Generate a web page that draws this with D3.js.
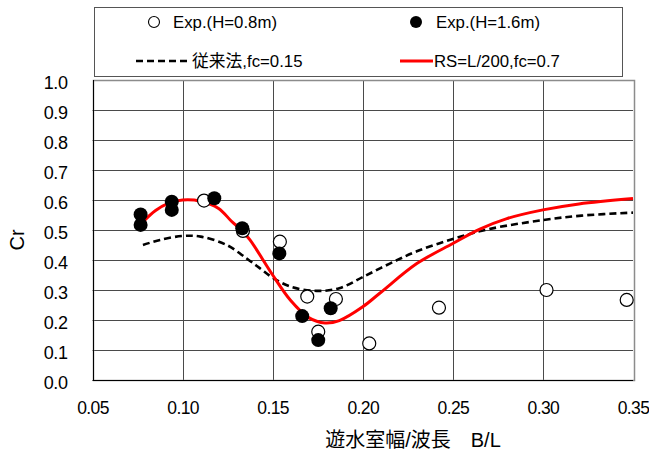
<!DOCTYPE html>
<html>
<head>
<meta charset="utf-8">
<script src="https://cdn.jsdelivr.net/npm/d3@7"></script>
<style>
  html, body { margin: 0; padding: 0; background: #fff; }
  svg { display: block; }
  text { font-family: "Liberation Sans", Arial, "Noto Sans CJK JP", sans-serif; fill: #000; }
  .jp { font-family: "Liberation Sans", "Noto Sans CJK JP", sans-serif; }
</style>
</head>
<body>
<script>
// Reflection coefficient Cr against chamber width / wavelength B/L
const xTicks = [0.05, 0.10, 0.15, 0.20, 0.25, 0.30, 0.35];
const yTicks = [0.0, 0.1, 0.2, 0.3, 0.4, 0.5, 0.6, 0.7, 0.8, 0.9, 1.0];

// Experiments, H = 0.8 m (open markers)
const expH08 = [
  [0.1119, 0.598], [0.1335, 0.497], [0.1540, 0.461], [0.1692, 0.278],
  [0.1753, 0.161], [0.1851, 0.270], [0.2036, 0.122], [0.2423, 0.241],
  [0.3020, 0.300], [0.3465, 0.267]
];

// Experiments, H = 1.6 m (filled markers)
const expH16 = [
  [0.0767, 0.552], [0.0767, 0.517], [0.0940, 0.594], [0.0940, 0.567],
  [0.1176, 0.606], [0.1331, 0.506], [0.1537, 0.422], [0.1664, 0.213],
  [0.1822, 0.239], [0.1753, 0.133]
];

// Conventional method, fc = 0.15 (dashed)
const conventional = [
  [0.078, 0.450], [0.0875, 0.467], [0.100, 0.480], [0.110, 0.478],
  [0.1245, 0.450], [0.1356, 0.405], [0.143, 0.372], [0.150, 0.341],
  [0.160, 0.311], [0.1744, 0.297], [0.187, 0.306], [0.2003, 0.344],
  [0.215, 0.388], [0.230, 0.429], [0.250, 0.470], [0.270, 0.503],
  [0.300, 0.533], [0.3215, 0.548], [0.350, 0.558]
];

// RS = L/200, fc = 0.7 (red)
const rsModel = [
  [0.078, 0.527], [0.085, 0.565], [0.092, 0.589], [0.100, 0.600],
  [0.110, 0.596], [0.120, 0.572], [0.127, 0.530], [0.133, 0.497],
  [0.1374, 0.467], [0.150, 0.350], [0.160, 0.265], [0.170, 0.208],
  [0.179, 0.190], [0.187, 0.198], [0.200, 0.244], [0.2096, 0.290],
  [0.230, 0.388], [0.250, 0.455], [0.265, 0.503], [0.280, 0.538],
  [0.300, 0.567], [0.320, 0.587], [0.350, 0.605]
];

const legendLabels = ["Exp.(H=0.8m)", "Exp.(H=1.6m)", "従来法,fc=0.15", "RS=L/200,fc=0.7"];
const xTitle = "遊水室幅/波長　B/L";
const yTitle = "Cr";

const W = 649, H = 454;
const plot = { left: 92.5, right: 633, top: 80, bottom: 380 };

const svg = d3.select("body").append("svg").attr("width", W).attr("height", H);

const x = d3.scaleLinear().domain([0.05, 0.35]).range([plot.left, plot.right]);
const y = d3.scaleLinear().domain([0, 1]).range([plot.bottom, plot.top]);
const snap = v => Math.round(v) + 0.5;

// grid
const grid = svg.append("g");
grid.selectAll("line.v").data(xTicks.slice(1, -1)).join("line")
  .attr("x1", d => snap(x(d))).attr("x2", d => snap(x(d)))
  .attr("y1", plot.top).attr("y2", plot.bottom)
  .attr("stroke", "#4a4a4a").attr("stroke-width", 1);
grid.selectAll("line.h").data(yTicks.slice(1, -1)).join("line")
  .attr("x1", plot.left).attr("x2", plot.right)
  .attr("y1", d => snap(y(d))).attr("y2", d => snap(y(d)))
  .attr("stroke", "#4a4a4a").attr("stroke-width", 1);

// plot frame
svg.append("rect")
  .attr("x", snap(plot.left)).attr("y", snap(plot.top))
  .attr("width", Math.round(plot.right - plot.left)).attr("height", Math.round(plot.bottom - plot.top))
  .attr("fill", "none").attr("stroke", "#8c8c8c").attr("stroke-width", 1.5);
svg.append("line").attr("x1", snap(plot.left)).attr("x2", snap(plot.left))
  .attr("y1", plot.top).attr("y2", plot.bottom + 0.5).attr("stroke", "#000");
svg.append("line").attr("x1", plot.left).attr("x2", plot.right)
  .attr("y1", snap(plot.bottom)).attr("y2", snap(plot.bottom)).attr("stroke", "#000");

// axis labels via d3 axes (lines hidden, labels kept)
const xAxis = svg.append("g").attr("transform", `translate(0,${plot.bottom})`)
  .call(d3.axisBottom(x).tickValues(xTicks).tickFormat(d3.format(".2f")).tickSize(0).tickPadding(22));
xAxis.select(".domain").remove();
xAxis.selectAll("text").attr("font-size", 17.5).attr("letter-spacing", "-0.6px")
  .attr("font-family", "Liberation Sans, Arial, sans-serif").attr("fill", "#000");

const yAxis = svg.append("g").attr("transform", `translate(${plot.left},0)`)
  .call(d3.axisLeft(y).tickValues(yTicks).tickFormat(d3.format(".1f")).tickSize(0).tickPadding(25));
yAxis.select(".domain").remove();
yAxis.selectAll("text").attr("font-size", 18).attr("letter-spacing", "-0.4px")
  .attr("font-family", "Liberation Sans, Arial, sans-serif").attr("fill", "#000").attr("dy", "0.45em");

svg.append("text").attr("class", "jp")
  .attr("x", 413).attr("y", 447).attr("text-anchor", "middle")
  .attr("font-size", 20).text(xTitle);
svg.append("text")
  .attr("transform", "translate(24,240) rotate(-90)")
  .attr("text-anchor", "middle").attr("font-size", 20).text(yTitle);

// curves
const line = d3.line().x(d => x(d[0])).y(d => y(d[1])).curve(d3.curveCatmullRom.alpha(0.5));
svg.append("path").datum(conventional).attr("d", line)
  .attr("fill", "none").attr("stroke", "#000").attr("stroke-width", 2.6)
  .attr("stroke-dasharray", "7,4");
svg.append("path").datum(rsModel).attr("d", line)
  .attr("fill", "none").attr("stroke", "#ff0000").attr("stroke-width", 3);

// markers
svg.append("g").selectAll("circle").data(expH08).join("circle")
  .attr("cx", d => x(d[0])).attr("cy", d => y(d[1])).attr("r", 6.5)
  .attr("fill", "#fff").attr("stroke", "#000").attr("stroke-width", 1.2);
svg.append("g").selectAll("circle").data(expH16).join("circle")
  .attr("cx", d => x(d[0])).attr("cy", d => y(d[1])).attr("r", 7)
  .attr("fill", "#000");

// legend
const lg = svg.append("g");
lg.append("rect").attr("x", 94.5).attr("y", 7.5).attr("width", 528).attr("height", 69)
  .attr("fill", "#fff").attr("stroke", "#555").attr("stroke-width", 1);
const row1 = 22, row2 = 61;
lg.append("circle").attr("cx", 154).attr("cy", row1).attr("r", 5.5)
  .attr("fill", "#fff").attr("stroke", "#000").attr("stroke-width", 1.1);
lg.append("text").attr("x", 173).attr("y", row1).attr("dy", "0.36em").attr("font-size", 16.8).text(legendLabels[0]);
lg.append("circle").attr("cx", 416).attr("cy", row1).attr("r", 6).attr("fill", "#000");
lg.append("text").attr("x", 436).attr("y", row1).attr("dy", "0.36em").attr("font-size", 16.8).text(legendLabels[1]);
lg.append("line").attr("x1", 136).attr("x2", 191).attr("y1", row2).attr("y2", row2)
  .attr("stroke", "#000").attr("stroke-width", 2.6).attr("stroke-dasharray", "7,4");
lg.append("text").attr("class", "jp").attr("x", 192).attr("y", row2).attr("dy", "0.36em").attr("font-size", 16.8).text(legendLabels[2]);
lg.append("line").attr("x1", 400).attr("x2", 433).attr("y1", row2).attr("y2", row2)
  .attr("stroke", "#ff0000").attr("stroke-width", 3);
lg.append("text").attr("x", 434).attr("y", row2).attr("dy", "0.36em").attr("font-size", 16.8).text(legendLabels[3]);
</script>
</body>
</html>
